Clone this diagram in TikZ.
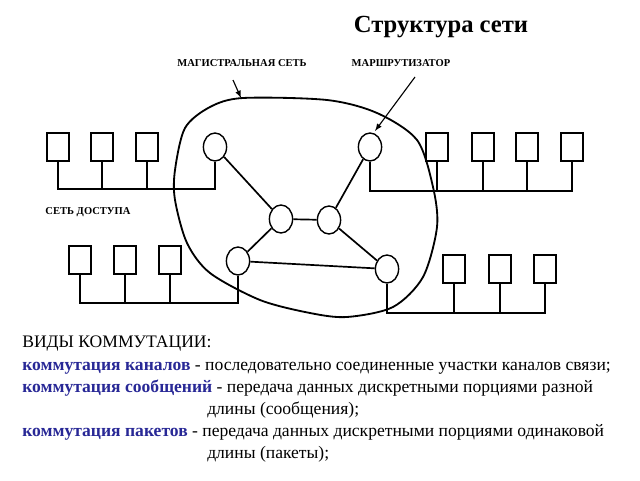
\documentclass[tikz,border=0pt]{standalone}
\usepackage{fontspec}
\setmainfont{Liberation Serif}
\usepackage{xcolor}
\usepackage{tikz}
\usetikzlibrary{shapes.geometric}
\definecolor{termblue}{RGB}{40,40,150}
\tikzset{
	router/.style={draw, ellipse, line width=1pt, minimum width=5.8mm, minimum height=7mm, inner sep=0pt},
	host/.style={draw, rectangle, line width=1pt, minimum width=5.5mm, minimum height=7mm, inner sep=0pt},
	link/.style={line width=1.2pt},
	caption/.style={font=\fontsize{7.5}{9}\selectfont\bfseries},
	textline/.style={anchor=base west, inner sep=0pt, font=\fontsize{12.5}{15}\selectfont},
	term/.style={text=termblue}
}

\begin{document}
\begin{tikzpicture}[x=0.25mm, y=-0.25mm]
				\useasboundingbox (0,0) rectangle (640,480);
				\node (title) at (441,27) {\fontsize{17.5}{20}\selectfont\bfseries Структура сети};
				% backbone outline
				\draw[line width=1.3pt] plot[smooth cycle] coordinates {(243,98) (327,100) (377,113) (417,140) (433,187) (437,227) (423,277) (393,307) (347,317) (310,313) (260,300) (210,273) (187,243) (175,200) (175,170) (185,128) (210,107)};
				\node[caption] (backbone) at (242,63) {МАГИСТРАЛЬНАЯ СЕТЬ};
				\node[caption] (routerlabel) at (401,63) {МАРШРУТИЗАТОР};
				\node[caption] (access) at (88,212) {СЕТЬ ДОСТУПА};
				\coordinate (taila) at (233,80);
				\coordinate (tipa) at (241,98);
				\coordinate (tailb) at (415,77);
				\coordinate (tipb) at (375,131);
				\draw[-latex, line width=0.8pt] (taila) -- (tipa);
				\draw[-latex, line width=0.8pt] (tailb) -- (tipb);
				% routers
				\node[router] (ra) at (215,147) {};
				\node[router] (rb) at (281,219) {};
				\node[router] (rc) at (329,220) {};
				\node[router] (rd) at (238,261) {};
				\node[router] (re) at (387,269) {};
				\node[router] (rf) at (370,147) {};
				\draw[link] (ra) -- (rb);
				\draw[link] (rb) -- (rc);
				\draw[link] (rc) -- (rf);
				\draw[link] (rb) -- (rd);
				\draw[link] (rc) -- (re);
				\draw[link] (rd) -- (re);
				% access networks
				\node[host] (ha1) at (58,147) {};
				\node[host] (ha2) at (102,147) {};
				\node[host] (ha3) at (147,147) {};
				\coordinate (busa) at (58,189);
				\draw[link] (ra.south) |- (busa) -- (ha1.south);
				\draw[link] (ha2.south) -- (ha2.south |- busa);
				\draw[link] (ha3.south) -- (ha3.south |- busa);
				\node[host] (hb1) at (437,147) {};
				\node[host] (hb2) at (483,147) {};
				\node[host] (hb3) at (527,147) {};
				\node[host] (hb4) at (572,147) {};
				\coordinate (busb) at (572,191);
				\draw[link] (rf.south) |- (busb) -- (hb4.south);
				\draw[link] (hb1.south) -- (hb1.south |- busb);
				\draw[link] (hb2.south) -- (hb2.south |- busb);
				\draw[link] (hb3.south) -- (hb3.south |- busb);
				\node[host] (hc1) at (80,260) {};
				\node[host] (hc2) at (125,260) {};
				\node[host] (hc3) at (170,260) {};
				\coordinate (busc) at (80,303);
				\draw[link] (rd.south) |- (busc) -- (hc1.south);
				\draw[link] (hc2.south) -- (hc2.south |- busc);
				\draw[link] (hc3.south) -- (hc3.south |- busc);
				\node[host] (hd1) at (454,269) {};
				\node[host] (hd2) at (500,269) {};
				\node[host] (hd3) at (545,269) {};
				\coordinate (busd) at (545,313);
				\draw[link] (re.south) |- (busd) -- (hd3.south);
				\draw[link] (hd1.south) -- (hd1.south |- busd);
				\draw[link] (hd2.south) -- (hd2.south |- busd);
				% switching kinds
				\node[textline] (kinds) at (22,347) {ВИДЫ КОММУТАЦИИ:};
				\node[textline] (circuit) at (22,370) {\textbf{\textcolor{termblue}{коммутация каналов}} - последовательно соединенные участки каналов связи;};
				\node[textline] (message) at (22,392) {\textbf{\textcolor{termblue}{коммутация сообщений}} - передача данных дискретными порциями разной};
				\node[textline] (messagecont) at (207,414) {длины (сообщения);};
				\node[textline] (packet) at (22,436) {\textbf{\textcolor{termblue}{коммутация пакетов}} - передача данных дискретными порциями одинаковой};
				\node[textline] (packetcont) at (207,458) {длины (пакеты);};
			\end{tikzpicture}
\end{document}
